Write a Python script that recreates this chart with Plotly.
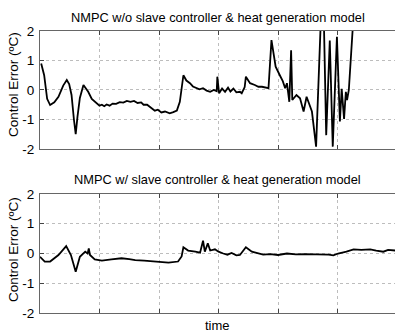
import plotly.graph_objects as go

# Top: NMPC w/o slave controller & heat generation model
t_top = [0.02, 0.07, 0.12, 0.17, 0.24, 0.31, 0.39, 0.45, 0.49, 0.53, 0.57, 0.60, 0.63, 0.67,
         0.73, 0.81, 0.87, 0.95, 1.00, 1.04, 1.08, 1.12, 1.17, 1.22, 1.28, 1.34, 1.40, 1.46,
         1.52, 1.58, 1.64, 1.70, 1.74, 1.80, 1.86, 1.93, 1.98, 2.04, 2.10, 2.18, 2.24, 2.30,
         2.35, 2.41, 2.46, 2.52, 2.57, 2.63, 2.68, 2.74, 2.80, 2.86, 2.92, 2.97, 2.98, 3.01,
         3.06, 3.11, 3.16, 3.20, 3.25, 3.30, 3.36, 3.39, 3.44, 3.46, 3.53, 3.61, 3.67, 3.73,
         3.84, 3.89, 3.96, 4.03, 4.08, 4.12, 4.15, 4.19, 4.22, 4.24, 4.31, 4.37, 4.43, 4.48,
         4.57, 4.64, 4.72, 4.77, 4.81, 4.87, 4.92, 4.99, 5.04, 5.07, 5.11, 5.14, 5.16, 5.19,
         5.23, 5.30, 5.97]
e_top = [0.90, 0.50, -0.30, -0.51, -0.42, -0.23, 0.15, 0.34, 0.20, -0.17, -1.00, -1.50, -0.90, -0.27,
         0.17, -0.06, -0.30, -0.45, -0.53, -0.50, -0.55, -0.49, -0.53, -0.46, -0.47, -0.41, -0.43, -0.37,
         -0.40, -0.37, -0.44, -0.42, -0.50, -0.50, -0.60, -0.70, -0.67, -0.76, -0.73, -0.79, -0.75, -0.70,
         -0.40, 0.50, 0.32, 0.23, 0.12, 0.06, 0.02, 0.06, -0.02, -0.06, 0.00, -0.04, 0.45, -0.11,
         0.05, -0.06, 0.08, -0.05, 0.05, -0.08, -0.06, -0.11, 0.10, 0.45, 0.23, 0.17, 0.11, 0.11,
         0.06, 1.69, 0.79, 0.50, 0.30, 0.06, 0.23, -0.40, 1.35, -0.34, -0.17, -0.28, -0.73, -0.23,
         -0.73, -1.92, 2.40, 2.40, -1.53, 1.68, -1.92, 1.80, -1.07, 0.04, -0.98, -0.06, -0.34, 0.00,
         2.10, 3.50, 4.00]

# Bottom: NMPC w/ slave controller & heat generation model
t_bot = [0.00, 0.08, 0.17, 0.31, 0.44, 0.52, 0.60, 0.67, 0.76, 0.80, 0.82, 0.84, 0.92, 1.04,
         1.20, 1.37, 1.50, 1.60, 1.75, 1.88, 2.00, 2.16, 2.32, 2.38, 2.41, 2.49, 2.61, 2.69,
         2.74, 2.77, 2.82, 2.86, 2.94, 3.00, 3.08, 3.15, 3.22, 3.30, 3.36, 3.46, 3.56, 3.65,
         3.75, 3.87, 4.00, 4.15, 4.30, 4.45, 4.54, 4.70, 4.85, 4.93, 5.01, 5.15, 5.27, 5.40,
         5.55, 5.65, 5.77, 5.85, 5.97]
e_bot = [-0.11, -0.27, -0.27, -0.05, 0.25, -0.05, -0.61, -0.11, 0.06, 0.00, 0.17, -0.05, -0.20, -0.24,
         -0.20, -0.16, -0.19, -0.22, -0.24, -0.27, -0.29, -0.31, -0.27, -0.10, 0.21, 0.10, 0.06, 0.03,
         0.43, 0.06, 0.34, 0.10, 0.14, 0.06, 0.00, -0.04, 0.02, -0.06, -0.05, 0.21, 0.06, 0.02,
         -0.04, -0.02, -0.05, 0.00, -0.03, -0.02, -0.02, -0.03, -0.04, -0.06, 0.00, 0.06, 0.14, 0.12,
         0.14, 0.10, 0.06, 0.12, 0.10]

title_top = "NMPC w/o slave controller &amp; heat generation model"
title_bot = "NMPC w/ slave controller &amp; heat generation model"
y_label = "Control Error (ºC)"
x_label = "time"
y_ticks = [-2, -1, 0, 1, 2]
x_grid = [1, 2, 3, 4, 5]

FONT = "Liberation Sans, Arial, sans-serif"

fig = go.Figure()
fig.add_trace(go.Scatter(x=t_top, y=e_top, mode="lines", line=dict(color="black", width=1.8),
                         xaxis="x", yaxis="y", showlegend=False))
fig.add_trace(go.Scatter(x=t_bot, y=e_bot, mode="lines", line=dict(color="black", width=1.8),
                         xaxis="x2", yaxis="y2", showlegend=False))

xcommon = dict(range=[0, 5.966], tickvals=x_grid, showticklabels=False, ticks="inside",
               ticklen=4, tickcolor="#444", showline=True, linecolor="#666", linewidth=1,
               mirror="ticks", showgrid=True, gridcolor="#bdbdbd", griddash="dot",
               gridwidth=1, zeroline=False, fixedrange=True)
ycommon = dict(range=[-2, 2], tickvals=y_ticks, ticktext=[str(v) for v in y_ticks],
               ticks="inside", ticklen=4, tickcolor="#444", showline=True, linecolor="#666",
               linewidth=1, mirror=False, showgrid=True, gridcolor="#bdbdbd", griddash="dot",
               gridwidth=1, zeroline=False, tickfont=dict(size=13.5, color="black", family=FONT),
               ticklabelstandoff=2)

fig.update_layout(
    width=395, height=332,
    margin=dict(l=40, r=0, t=31, b=19),
    plot_bgcolor="white", paper_bgcolor="white",
    font=dict(family=FONT, color="black"),
    xaxis=dict(domain=[0, 1], anchor="y", **xcommon),
    yaxis=dict(domain=[0.5816, 1], anchor="x", **ycommon),
    xaxis2=dict(domain=[0, 1], anchor="y2", **xcommon),
    yaxis2=dict(domain=[0, 0.422], anchor="x2", **ycommon),
    annotations=[
        dict(text=title_top, xref="paper", yref="paper", x=0.5, y=1.0, yshift=14,
             showarrow=False, font=dict(size=12.8), xanchor="center", yanchor="middle"),
        dict(text=title_bot, xref="paper", yref="paper", x=0.5, y=0.422, yshift=14,
             showarrow=False, font=dict(size=12.8), xanchor="center", yanchor="middle"),
        dict(text=y_label, xref="paper", yref="paper", x=0, xshift=-27, y=0.8085,
             textangle=-90, showarrow=False, font=dict(size=13.5), xanchor="center", yanchor="middle"),
        dict(text=y_label, xref="paper", yref="paper", x=0, xshift=-27, y=0.2234,
             textangle=-90, showarrow=False, font=dict(size=13.5), xanchor="center", yanchor="middle"),
        dict(text=x_label, xref="paper", yref="paper", x=0.5, y=0, yshift=-12,
             showarrow=False, font=dict(size=13), xanchor="center", yanchor="middle"),
    ],
)

fig.write_html("out.html")
